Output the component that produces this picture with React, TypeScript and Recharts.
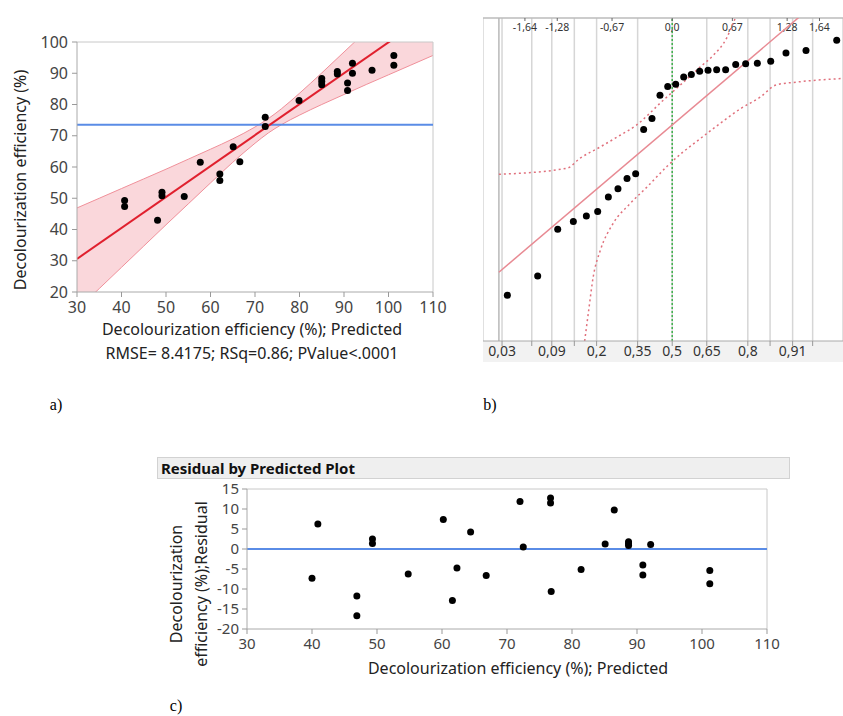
import React from 'react';
import {
  ComposedChart,
  Scatter,
  Line,
  Area,
  XAxis,
  YAxis,
  ReferenceLine,
  CartesianGrid
} from 'recharts';

// a) actual by predicted
const predictedA = [40.7, 40.7, 48.1, 49.1, 49.1, 54.1, 57.7, 62.1, 62.1, 65.1, 66.6, 72.3, 72.3, 79.9, 85.0, 85.0, 85.0, 88.5, 88.5, 90.8, 90.8, 91.9, 91.9, 96.3, 101.2, 101.2];
const actualA = [49.3, 47.4, 43.0, 51.9, 50.8, 50.6, 61.5, 57.8, 55.7, 66.5, 61.7, 75.9, 73.0, 81.3, 88.3, 87.4, 86.3, 90.6, 89.8, 86.9, 84.5, 93.2, 90.0, 91.0, 95.7, 92.6];
const meanActual = 73.5;
const fitAX = [30, 110];
const fitAY = [30.6, 109.8];
const bandX = [30, 35, 40, 45, 50, 55, 60, 65, 70, 73, 76, 80, 85, 90, 95, 100, 105, 110];
const bandLow = [14.3, 21.1, 27.9, 34.7, 41.5, 48.2, 54.9, 61.5, 67.6, 70.9, 73.6, 76.6, 80.0, 83.2, 86.4, 89.5, 92.6, 95.7];
const bandHigh = [46.9, 50.0, 53.1, 56.2, 59.3, 62.5, 65.7, 69.0, 72.8, 75.5, 78.7, 83.6, 90.1, 96.8, 103.5, 110.3, 117.1, 123.9];
const ticksAX = [30, 40, 50, 60, 70, 80, 90, 100, 110];
const ticksAY = [20, 30, 40, 50, 60, 70, 80, 90, 100];

// b) normal quantile plot
const quantileZ = [-1.836, -1.498, -1.275, -1.101, -0.956, -0.83, -0.711, -0.604, -0.503, -0.407, -0.318, -0.225, -0.136, -0.05, 0.039, 0.128, 0.213, 0.306, 0.399, 0.495, 0.595, 0.707, 0.818, 0.948, 1.097, 1.267, 1.49, 1.832];
const quantileY = [14.2, 20.1, 34.6, 37.0, 38.7, 40.1, 44.6, 47.1, 50.3, 51.8, 65.5, 68.9, 76.1, 78.8, 79.5, 81.7, 82.5, 83.5, 83.8, 84.0, 84.0, 85.6, 85.8, 86.0, 86.6, 89.2, 89.9, 93.1];
const fitBZ = [-1.93, 1.41];
const fitBY = [21.3, 100.2];
const upperZ = [-1.93, -1.17, -1.03, -0.8, -0.58, -0.4, -0.25, -0.14, 0.0, 0.16, 0.31, 0.46, 0.61, 0.68, 0.72];
const upperY = [51.6, 53.5, 56.5, 60.1, 63.7, 66.8, 70.5, 73.5, 77.0, 81.0, 84.8, 88.5, 94.0, 98.5, 101];
const lowerZ = [-0.975, -0.93, -0.88, -0.8, -0.66, -0.47, -0.28, -0.06, 0.12, 0.24, 0.46, 0.76, 0.98, 1.16, 1.4, 1.91];
const lowerY = [0, 9.5, 19.8, 28.1, 36.3, 42.5, 47.7, 54.0, 58.5, 61.1, 65.8, 71.9, 75.5, 79.3, 80.2, 81.3];
const probTicks = [-1.895, -1.564, -1.341, -1.09, -0.842, -0.385, 0, 0.385, 0.842, 1.09, 1.341, 1.564];
const probLabels = ['0,03', '', '0,09', '', '0,2', '0,35', '0,5', '0,65', '0,8', '', '0,91', ''];
const quantileTicks = [-1.64, -1.28, -0.67, 0, 0.67, 1.28, 1.64];
const quantileLabels = ['-1,64', '-1,28', '-0,67', '0,0', '0,67', '1,28', '1,64'];
const zDomain = [-2.107, 1.902];

// c) residual by predicted
const predictedC = [40.0, 40.9, 46.9, 46.9, 49.3, 49.3, 54.8, 60.2, 61.6, 62.3, 64.4, 66.8, 72.0, 72.5, 76.7, 76.7, 76.8, 81.4, 85.1, 86.5, 88.7, 88.7, 88.7, 90.9, 90.9, 92.1, 101.2, 101.2];
const residualC = [-7.3, 6.25, -11.75, -16.7, 2.5, 1.4, -6.25, 7.4, -12.9, -4.75, 4.25, -6.6, 11.9, 0.5, 12.75, 11.5, -10.6, -5.1, 1.25, 9.75, 1.8, 1.3, 0.9, -4.0, -6.5, 1.15, -5.4, -8.7];
const ticksCX = [30, 40, 50, 60, 70, 80, 90, 100, 110];
const ticksCY = [-20, -15, -10, -5, 0, 5, 10, 15];

const font = '"Noto Sans", "Open Sans", sans-serif';

const pointsA = predictedA.map((x, i) => ({ x, y: actualA[i] }));
const bandRows = bandX.map((x, i) => ({ x, band: [bandLow[i], bandHigh[i]] }));
const fitRowsA = fitAX.map((x, i) => ({ x, y: fitAY[i] }));
const pointsB = quantileZ.map((z, i) => ({ z, y: quantileY[i] }));
const fitRowsB = fitBZ.map((z, i) => ({ z, y: fitBY[i] }));
const upperRows = upperZ.map((z, i) => ({ z, y: upperY[i] }));
const lowerRows = lowerZ.map((z, i) => ({ z, y: lowerY[i] }));
const pointsC = predictedC.map((x, i) => ({ x, y: residualC[i] }));

const Dot = (props: any) => <circle cx={props.cx} cy={props.cy} r={3.5} fill="#000" />;

// normal-quantile labels hang just under the top frame line
const topLabel = (text: string) => (props: any) => {
  const vb = props.viewBox || {};
  const x = vb.x ?? 0;
  const y = vb.y ?? 0;
  return (
    <g>
      <line x1={x} x2={x} y1={y} y2={y + 3} stroke="#666" />
      <text x={x} y={y + 13} textAnchor="middle" fontSize={10.5} fill="#333" fontFamily={font}>{text}</text>
    </g>
  );
};

const Txt = ({ x, y, children, size = 16, rotate = 0, weight = 400, color = '#222', family = font, lineHeight }: any) => (
  <div
    style={{
      position: 'absolute',
      left: x,
      top: y,
      transform: `translate(-50%, -50%) rotate(${rotate}deg)`,
      fontSize: size,
      fontFamily: family,
      fontWeight: weight,
      color,
      whiteSpace: 'nowrap',
      textAlign: 'center',
      lineHeight: lineHeight ?? 'normal'
    }}
  >
    {children}
  </div>
);

const tickStyle = { fontSize: 16, fill: '#444', fontFamily: font };

export default function App() {
  return (
    <div style={{ position: 'absolute', left: 0, top: 0, width: 843, height: 716, background: '#fff', overflow: 'hidden' }}>
      {/* a) */}
      <div style={{ position: 'absolute', left: 0, top: 0 }}>
        <ComposedChart width={450} height={320} data={bandRows} margin={{ top: 42, right: 17, bottom: 0, left: 0 }}>
          <XAxis dataKey="x" type="number" domain={[30, 110]} ticks={ticksAX} interval={0} allowDataOverflow
            height={28} tickSize={5} tickMargin={5} tick={tickStyle} tickLine={{ stroke: '#999' }} axisLine={{ stroke: '#aaa' }} />
          <YAxis type="number" domain={[20, 100]} ticks={ticksAY} interval={0} allowDataOverflow
            width={77} tickSize={5} tickMargin={4} tick={tickStyle} tickLine={{ stroke: '#999' }} axisLine={{ stroke: '#aaa' }} />
          <ReferenceLine y={100} stroke="#c8c8c8" />
          <ReferenceLine x={110} stroke="#c8c8c8" />
          <Area dataKey="band" type="monotone" stroke="#f0909a" strokeWidth={1} fill="#f4a7b0" fillOpacity={0.45} isAnimationActive={false} />
          <ReferenceLine y={meanActual} stroke="#5a8ce6" strokeWidth={2} />
          <Line data={fitRowsA} dataKey="y" stroke="#e0202e" strokeWidth={2} dot={false} isAnimationActive={false} />
          <Scatter data={pointsA} dataKey="y" shape={Dot} isAnimationActive={false} />
        </ComposedChart>
      </div>
      <Txt x={20} y={180} rotate={-90}>Decolourization efficiency (%)</Txt>
      <Txt x={252} y={329}>Decolourization efficiency (%); Predicted</Txt>
      <Txt x={252} y={353}>RMSE= 8.4175; RSq=0.86; PValue&lt;.0001</Txt>

      {/* b) */}
      <div style={{ position: 'absolute', left: 483, top: 341, width: 360, height: 21, background: '#f2f2f2' }} />
      <div style={{ position: 'absolute', left: 483, top: 0 }}>
        <ComposedChart width={360} height={365} margin={{ top: 18, right: 0, bottom: 0, left: 0 }}>
          <CartesianGrid horizontal={false} stroke="#d6d6d6" strokeWidth={1.5} />
          <XAxis dataKey="z" type="number" domain={zDomain} ticks={probTicks} interval={0} allowDataOverflow
            tickFormatter={(v: number) => probLabels[probTicks.indexOf(v)]}
            height={24} tickSize={5} tickMargin={0} tick={{ fontSize: 14, fill: '#333', fontFamily: font }}
            tickLine={{ stroke: '#999' }} axisLine={{ stroke: '#aaa' }} />
          <YAxis hide type="number" domain={[0, 100]} allowDataOverflow />
          <ReferenceLine y={100} stroke="#bbb" strokeWidth={1.5} />
          <ReferenceLine x={-1.93} stroke="#b8b8b8" strokeWidth={1.5} />
          <ReferenceLine x={0} stroke="#3cb04a" strokeDasharray="2 2" strokeWidth={1.5} />
          {quantileTicks.map((q, i) => (
            <ReferenceLine key={q} x={q} stroke="none" strokeOpacity={0} label={topLabel(quantileLabels[i])} />
          ))}
          <Line data={upperRows} dataKey="y" type="monotone" stroke="#e0707c" strokeWidth={1.5} strokeDasharray="2 3" dot={false} isAnimationActive={false} />
          <Line data={lowerRows} dataKey="y" type="monotone" stroke="#e0707c" strokeWidth={1.5} strokeDasharray="2 3" dot={false} isAnimationActive={false} />
          <Line data={fitRowsB} dataKey="y" stroke="#e88a93" strokeWidth={1.5} dot={false} isAnimationActive={false} />
          <Scatter data={pointsB} dataKey="y" shape={Dot} isAnimationActive={false} />
        </ComposedChart>
      </div>

      {/* c) */}
      <div style={{
        position: 'absolute', left: 157, top: 457, width: 628, height: 20, background: '#efefef',
        border: '1px solid #d2d2d2', fontFamily: font, fontWeight: 700, fontSize: 15, color: '#111',
        lineHeight: '20px', paddingLeft: 3, boxSizing: 'content-box'
      }}>
        Residual by Predicted Plot
      </div>
      <div style={{ position: 'absolute', left: 200, top: 470 }}>
        <ComposedChart width={590} height={190} margin={{ top: 19, right: 23, bottom: 1, left: 0 }}>
          <XAxis dataKey="x" type="number" domain={[30, 110]} ticks={ticksCX} interval={0} allowDataOverflow
            height={30} tickSize={5} tickMargin={4} tick={{ ...tickStyle, fontSize: 15 }} tickLine={{ stroke: '#999' }} axisLine={{ stroke: '#aaa' }} />
          <YAxis type="number" domain={[-20, 15]} ticks={ticksCY} interval={0} allowDataOverflow
            width={47} tickSize={5} tickMargin={3} tick={{ ...tickStyle, fontSize: 15 }} tickLine={{ stroke: '#999' }} axisLine={{ stroke: '#aaa' }} />
          <ReferenceLine y={15} stroke="#c8c8c8" />
          <ReferenceLine x={110} stroke="#c8c8c8" />
          <ReferenceLine y={0} stroke="#5a8ce6" strokeWidth={2} />
          <Scatter data={pointsC} dataKey="y" shape={Dot} isAnimationActive={false} />
        </ComposedChart>
      </div>
      <Txt x={189} y={584} rotate={-90} lineHeight="25px">
        Decolourization<br />efficiency (%);Residual
      </Txt>
      <Txt x={518} y={668}>Decolourization efficiency (%); Predicted</Txt>

      <Txt x={56} y={405} family='"Liberation Serif", serif' color="#000">a)</Txt>
      <Txt x={490} y={405} family='"Liberation Serif", serif' color="#000">b)</Txt>
      <Txt x={176} y={706} family='"Liberation Serif", serif' color="#000">c)</Txt>
    </div>
  );
}
